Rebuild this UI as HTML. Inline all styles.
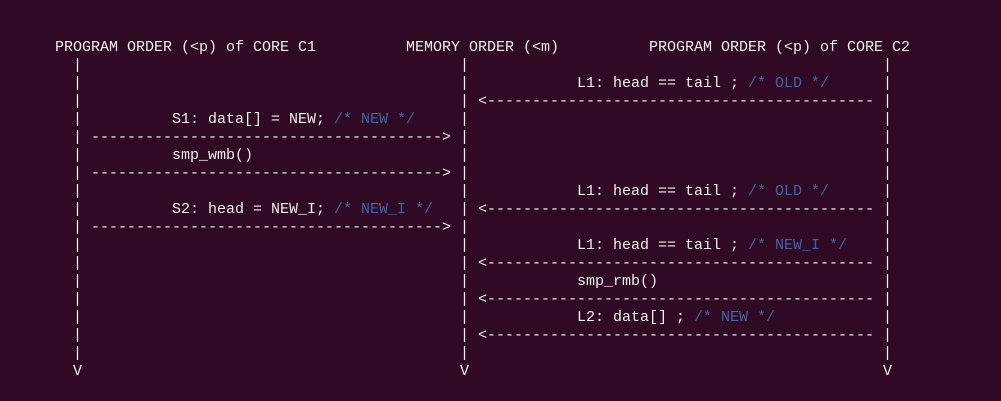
<!DOCTYPE html>
<html><head><meta charset="utf-8"><style>
html,body{margin:0;padding:0;background:#300a24;width:1001px;height:401px;overflow:hidden}
#w{position:absolute;left:0;top:2px;width:1001px;height:399px}
.t{position:absolute;font-family:"Liberation Mono",monospace;font-size:15px;line-height:18px;color:#eeeeec;white-space:pre;margin:0}
.c{color:#3f63a8}
</style></head><body><div id="w">
<div class="t" style="left:55px;top:37px">PROGRAM ORDER (&lt;p) of CORE C1</div>
<div class="t" style="left:406px;top:37px">MEMORY ORDER (&lt;m)</div>
<div class="t" style="left:649px;top:37px">PROGRAM ORDER (&lt;p) of CORE C2</div>

<div class="t" style="left:73px;top:55px">|
|
|
|
|
|
|
|
|
|
|
|
|
|
|
|
|
V</div>
<div class="t" style="left:460px;top:55px">|
|
|
|
|
|
|
|
|
|
|
|
|
|
|
|
|
V</div>
<div class="t" style="left:883px;top:55px">|
|
|
|
|
|
|
|
|
|
|
|
|
|
|
|
|
V</div>

<div class="t" style="left:172px;top:109px">S1: data[] = NEW; <span class="c">/* NEW */</span></div>
<div class="t" style="left:91px;top:127px">---------------------------------------&gt;</div>
<div class="t" style="left:172px;top:145px">smp_wmb()</div>
<div class="t" style="left:91px;top:163px">---------------------------------------&gt;</div>
<div class="t" style="left:172px;top:199px">S2: head = NEW_I; <span class="c">/* NEW_I */</span></div>
<div class="t" style="left:91px;top:217px">---------------------------------------&gt;</div>

<div class="t" style="left:577px;top:73px">L1: head == tail ; <span class="c">/* OLD */</span></div>
<div class="t" style="left:478px;top:91px">&lt;-------------------------------------------</div>
<div class="t" style="left:577px;top:181px">L1: head == tail ; <span class="c">/* OLD */</span></div>
<div class="t" style="left:478px;top:199px">&lt;-------------------------------------------</div>
<div class="t" style="left:577px;top:235px">L1: head == tail ; <span class="c">/* NEW_I */</span></div>
<div class="t" style="left:478px;top:253px">&lt;-------------------------------------------</div>
<div class="t" style="left:577px;top:271px">smp_rmb()</div>
<div class="t" style="left:478px;top:289px">&lt;-------------------------------------------</div>
<div class="t" style="left:577px;top:307px">L2: data[] ; <span class="c">/* NEW */</span></div>
<div class="t" style="left:478px;top:325px">&lt;-------------------------------------------</div>
</div></body></html>
